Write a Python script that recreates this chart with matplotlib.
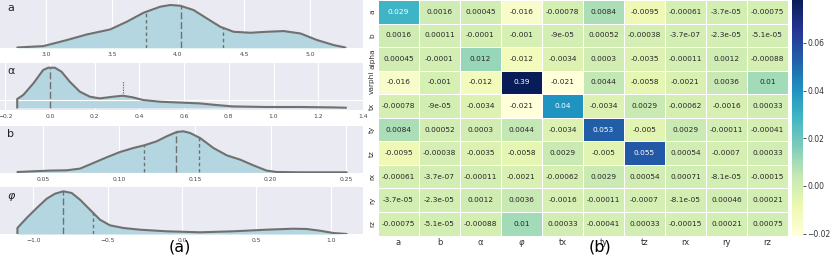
import numpy as np
import matplotlib
matplotlib.use("Agg")
import matplotlib.pyplot as plt
from matplotlib.colors import Normalize

# ---- left: density curves (x, height) ----
a_x = [2.785, 2.982, 3.159, 3.310, 3.487, 3.613, 3.740, 3.866, 3.942, 4.017,
       4.118, 4.219, 4.320, 4.421, 4.548, 4.674, 4.800, 4.927, 5.053, 5.179, 5.267]
a_y = [0.3, 1.7, 7.7, 13.3, 18.3, 26.0, 35.0, 41.0, 42.7, 42.0,
       37.7, 29.3, 21.0, 16.0, 15.0, 16.0, 16.7, 14.3, 7.7, 2.7, 0.3]
a_quart = [3.757, 4.02, 4.34]

alpha_x = [-0.146, -0.146, -0.119, -0.074, -0.030, -0.007, 0.022, 0.052, 0.089, 0.134,
           0.179, 0.223, 0.283, 0.327, 0.372, 0.417, 0.491, 0.595, 0.670, 0.744,
           0.818, 0.967, 1.116, 1.265, 1.324]
alpha_y = [0.0, 8.7, 12.7, 24.3, 37.7, 40.0, 40.0, 36.0, 26.0, 16.0,
           11.0, 9.3, 11.0, 12.0, 10.3, 7.7, 6.0, 5.0, 4.3, 2.7,
           1.3, 0.7, 0.7, 0.3, 0.0]
alpha_quart = [0.0, 0.327]

b_x = [0.0329, 0.0434, 0.0544, 0.0654, 0.0742, 0.0830, 0.0918, 0.1006, 0.1094, 0.1166,
       0.1248, 0.1314, 0.1380, 0.1424, 0.1468, 0.1534, 0.1622, 0.1710, 0.1798, 0.1885,
       0.1973, 0.2039, 0.2193, 0.2413, 0.2501]
b_y = [0.3, 1.0, 1.7, 2.0, 3.7, 9.3, 15.0, 20.3, 24.3, 27.0,
       31.0, 36.0, 40.3, 41.0, 39.3, 34.3, 24.3, 17.0, 12.7, 7.0,
       1.7, 0.3, 0.0, 0.0, 0.0]
b_quart = [0.1166, 0.1373, 0.1525]

phi_x = [-1.107, -1.107, -1.045, -0.977, -0.910, -0.854, -0.798, -0.742, -0.686, -0.619,
         -0.552, -0.485, -0.395, -0.283, -0.104, 0.120, 0.344, 0.568, 0.747, 0.837,
         0.927, 1.016, 1.106]
phi_y = [0.0, 6.0, 16.0, 26.0, 35.3, 40.3, 42.7, 41.0, 34.3, 24.3,
         14.3, 8.7, 6.0, 4.3, 2.7, 1.7, 2.7, 4.3, 5.3, 5.0,
         3.3, 1.0, 0.0]
phi_quart = [-0.802, -0.601]

# ---- right: covariance matrix ----
labels_x = ["a", "b", "α", r"$\varphi$", "tx", "ty", "tz", "rx", "ry", "rz"]
labels_y = ["a", "b", "alpha", "varphi", "tx", "ty", "tz", "rx", "ry", "rz"]
cov = np.array([
    [0.029, 0.0016, 0.00045, -0.016, -0.00078, 0.0084, -0.0095, -0.00061, -3.7e-05, -0.00075],
    [0.0016, 0.00011, -0.0001, -0.001, -9e-05, 0.00052, -0.00038, -3.7e-07, -2.3e-05, -5.1e-05],
    [0.00045, -0.0001, 0.012, -0.012, -0.0034, 0.0003, -0.0035, -0.00011, 0.0012, -0.00088],
    [-0.016, -0.001, -0.012, 0.39, -0.021, 0.0044, -0.0058, -0.0021, 0.0036, 0.01],
    [-0.00078, -9e-05, -0.0034, -0.021, 0.04, -0.0034, 0.0029, -0.00062, -0.0016, 0.00033],
    [0.0084, 0.00052, 0.0003, 0.0044, -0.0034, 0.053, -0.005, 0.0029, -0.00011, -0.00041],
    [-0.0095, -0.00038, -0.0035, -0.0058, 0.0029, -0.005, 0.055, 0.00054, -0.0007, 0.00033],
    [-0.00061, -3.7e-07, -0.00011, -0.0021, -0.00062, 0.0029, 0.00054, 0.00071, -8.1e-05, -0.00015],
    [-3.7e-05, -2.3e-05, 0.0012, 0.0036, -0.0016, -0.00011, -0.0007, -8.1e-05, 0.00046, 0.00021],
    [-0.00075, -5.1e-05, -0.00088, 0.01, 0.00033, -0.00041, 0.00033, -0.00015, 0.00021, 0.00075],
])

W, H = 831, 256
fig = plt.figure(figsize=(W / 100, H / 100), dpi=100)


def px_axes(x0, y0, x1, y1):
    # pixel box (top-left origin) -> figure axes
    return fig.add_axes([x0 / W, 1 - y1 / H, (x1 - x0) / W, (y1 - y0) / H])


FILL = "#b3d6e1"
EDGE = "#707070"
BG = "#eaeaf2"

panels = [
    ("a", a_x, a_y, a_quart, (0, 48.3), (2.654, 5.40), (-0.5, 47.7), [3.0, 3.5, 4.0, 4.5, 5.0], "%.1f", "a"),
    ("alpha", alpha_x, alpha_y, alpha_quart, (62.7, 110), (-0.223, 1.397), (-2.3, 45.0),
     [-0.2, 0.0, 0.2, 0.4, 0.6, 0.8, 1.0, 1.2, 1.4], "%.1f", "α"),
    ("b", b_x, b_y, b_quart, (126, 172.7), (0.0214, 0.2609), (-0.4, 46.3),
     [0.05, 0.10, 0.15, 0.20, 0.25], "%.2f", "b"),
    ("phi", phi_x, phi_y, phi_quart, (187.3, 234), (-1.224, 1.216), (0.0, 46.7),
     [-1.0, -0.5, 0.0, 0.5, 1.0], "%.1f", r"$\varphi$"),
]

for name, xs, ys, quart, (top, bot), xlim, ylim, ticks, fmt, lab in panels:
    ax = px_axes(0, top, 363, bot)
    ax.set_facecolor(BG)
    for t in ticks:
        ax.axvline(t, color="white", lw=0.8, zorder=0)
    if name == "alpha":
        ax.axhline(7.7, color="white", lw=0.8, zorder=3)
    ax.fill_between(xs, ys, 0, color=FILL, zorder=1, lw=0)
    ax.plot(xs, ys, color=EDGE, lw=1.5, zorder=4, solid_capstyle="round")
    for i, q in enumerate(quart):
        h = np.interp(q, xs, ys)
        if name == "alpha" and i == 1:
            ax.plot([q, q], [15, 27], color=EDGE, lw=0.9, dashes=(1, 1), zorder=4)
            continue
        median = (len(quart) == 3 and i == 1) or (len(quart) == 2 and i == 0)
        d = (5, 2) if median else (2.5, 2)
        ax.plot([q, q], [0, h], color=EDGE, lw=1.0, dashes=d, zorder=4)
    ax.set_xlim(*xlim)
    ax.set_ylim(*ylim)
    ax.set_yticks([])
    ax.set_xticks(ticks)
    ax.set_xticklabels([(fmt % t).replace("-", "\u2212") for t in ticks], fontsize=4.3, color="#444444")
    ax.tick_params(axis="x", length=0, pad=3)
    for s in ax.spines.values():
        s.set_visible(False)
    ax.text(0.02, 0.93, lab, transform=ax.transAxes, fontsize=8, va="top", ha="left", color="#222222")

fig.text(180 / W, 1 - 247 / H, "(a)", fontsize=11.5, ha="center", va="center")

# ---- heatmap ----
hx = px_axes(378, 0, 788, 235.5)
cmap = plt.get_cmap("YlGnBu")
norm = Normalize(vmin=-0.021, vmax=0.078)
n = len(labels_y)
hx.pcolormesh(np.arange(n + 1), np.arange(n + 1), cov, cmap=cmap, norm=norm,
              edgecolors="white", linewidth=0.5)
hx.set_xlim(0, n)
hx.set_ylim(n, 0)
for r in range(n):
    for c in range(n):
        v = cov[r, c]
        rgb = np.array(cmap(norm(v))[:3])
        lin = np.where(rgb <= 0.03928, rgb / 12.92, ((rgb + 0.055) / 1.055) ** 2.4)
        lum = 0.2126 * lin[0] + 0.7152 * lin[1] + 0.0722 * lin[2]
        col = "#262626" if lum > 0.408 else "white"
        hx.text(c + 0.5, r + 0.5, format(v, ".2g"), ha="center", va="center",
                fontsize=5.3, color=col)
hx.set_xticks(np.arange(n) + 0.5)
hx.set_xticklabels(labels_x, fontsize=6, color="#333333")
hx.set_yticks(np.arange(n) + 0.5)
hx.set_yticklabels(labels_y, fontsize=5.3, color="#333333", rotation=90, va="center")
hx.tick_params(length=0, pad=2)
for s in hx.spines.values():
    s.set_visible(False)

cax = px_axes(792, 0, 803, 236)
sm = plt.cm.ScalarMappable(norm=norm, cmap=cmap)
cb = fig.colorbar(sm, cax=cax)
cb.set_ticks([-0.02, 0.0, 0.02, 0.04, 0.06])
cb.ax.set_yticklabels(["\u22120.02", "0.00", "0.02", "0.04", "0.06"])
cb.ax.tick_params(labelsize=5.5, length=2, width=0.6, pad=1, colors="#333333")
cb.outline.set_visible(False)

fig.text(600 / W, 1 - 247 / H, "(b)", fontsize=11.5, ha="center", va="center")

fig.savefig("out.png", dpi=100)
